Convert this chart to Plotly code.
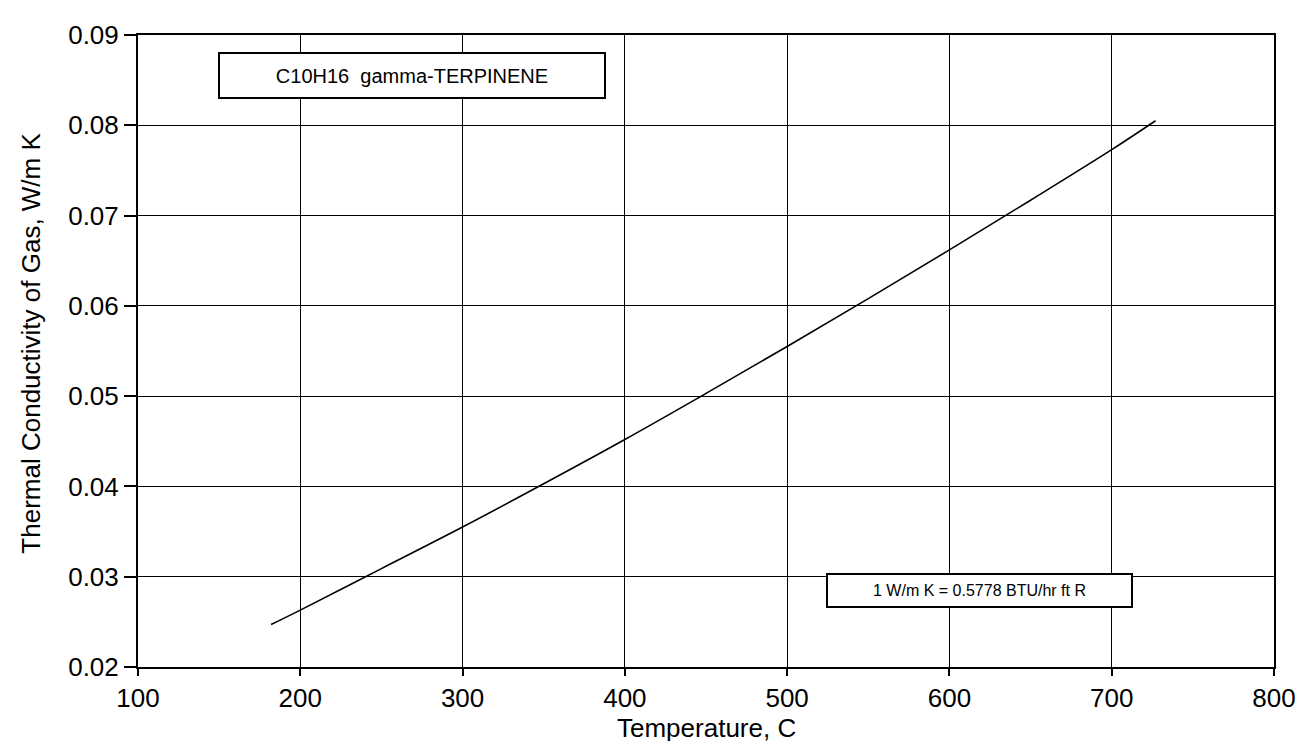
import plotly.graph_objects as go

# Data
temperature_c = [182, 200, 250, 300, 350, 400, 450, 500, 550, 600, 650, 700, 727]
conductivity = [0.0247, 0.0263, 0.0309, 0.0355, 0.0403, 0.0452, 0.0503, 0.0555,
                0.0608, 0.0662, 0.0717, 0.0773, 0.0805]

x_ticks = [100, 200, 300, 400, 500, 600, 700, 800]
y_ticks = [0.02, 0.03, 0.04, 0.05, 0.06, 0.07, 0.08, 0.09]

FONT = "Liberation Sans, Arial, Helvetica, sans-serif"

fig = go.Figure()
fig.add_trace(go.Scatter(x=temperature_c, y=conductivity, mode="lines",
                         line=dict(color="black", width=1.6), showlegend=False,
                         line_shape="spline"))

axis_common = dict(showgrid=True, gridcolor="black", gridwidth=1,
                   showline=True, linecolor="black", linewidth=2, mirror=True,
                   ticks="outside", tickcolor="black", tickwidth=1.5,
                   zeroline=False,
                   tickfont=dict(family=FONT, size=26, color="black"))

fig.update_xaxes(range=[100, 800], tickvals=x_ticks, ticklen=7,
                 ticktext=[str(v) for v in x_ticks], **axis_common)
fig.update_yaxes(range=[0.02, 0.09], tickvals=y_ticks, ticklen=12,
                 ticktext=[f"{v:.2f}" for v in y_ticks], **axis_common)

fig.add_annotation(xref="paper", yref="paper", x=-0.094, y=0.512,
                   text="Thermal Conductivity of Gas, W/m K", textangle=-90,
                   showarrow=False, xanchor="center", yanchor="middle",
                   font=dict(family=FONT, size=26, color="black"))
fig.add_annotation(xref="paper", yref="paper", x=0.5, y=-0.097,
                   text="Temperature, C", showarrow=False,
                   xanchor="center", yanchor="middle",
                   font=dict(family=FONT, size=26, color="black"))

fig.add_annotation(xref="x", yref="y", x=269, y=0.08546,
                   text="C10H16  gamma-TERPINENE", showarrow=False,
                   xanchor="center", yanchor="middle",
                   width=384, height=43, borderwidth=2, borderpad=0,
                   bordercolor="black", bgcolor="white",
                   font=dict(family=FONT, size=20, color="black"))
fig.add_annotation(xref="x", yref="y", x=618.7, y=0.0285,
                   text="1 W/m K = 0.5778 BTU/hr ft R", showarrow=False,
                   xanchor="center", yanchor="middle",
                   width=303, height=31, borderwidth=2, borderpad=0,
                   bordercolor="black", bgcolor="white",
                   font=dict(family=FONT, size=16, color="black"))

fig.update_layout(width=1308, height=741,
                  margin=dict(l=130, r=42, t=20, b=82),
                  paper_bgcolor="white", plot_bgcolor="white",
                  font=dict(family=FONT, color="black"))

fig.write_html("out.html")
